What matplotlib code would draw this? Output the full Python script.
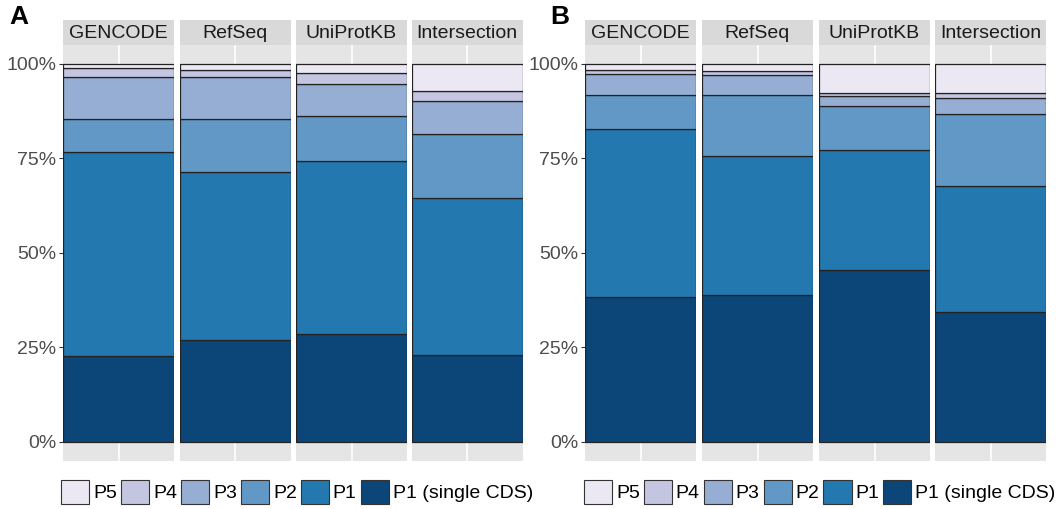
import matplotlib
matplotlib.use("Agg")
import matplotlib.pyplot as plt
from matplotlib.patches import Patch

plt.rcParams['font.family'] = ['Liberation Sans', 'DejaVu Sans']

# stacked categories, bottom to top
classes = ["P1 (single CDS)", "P1", "P2", "P3", "P4", "P5"]
colors = ["#0C4679", "#2478B0", "#6298C5", "#96AED4", "#C4C6E1", "#EBE8F3"]
sources = ["GENCODE", "RefSeq", "UniProtKB", "Intersection"]

# cumulative tops of each class, per source (fraction)
tops_a = {
    "GENCODE":      [0.226, 0.768, 0.853, 0.966, 0.989, 1.0],
    "RefSeq":       [0.269, 0.715, 0.853, 0.965, 0.984, 1.0],
    "UniProtKB":    [0.285, 0.743, 0.863, 0.948, 0.975, 1.0],
    "Intersection": [0.229, 0.644, 0.815, 0.902, 0.927, 1.0],
}
tops_b = {
    "GENCODE":      [0.383, 0.827, 0.917, 0.973, 0.985, 1.0],
    "RefSeq":       [0.388, 0.756, 0.917, 0.970, 0.981, 1.0],
    "UniProtKB":    [0.455, 0.771, 0.889, 0.914, 0.922, 1.0],
    "Intersection": [0.343, 0.678, 0.867, 0.911, 0.923, 1.0],
}

W, H = 1056, 509
fig = plt.figure(figsize=(W / 100, H / 100), dpi=100)

panel_top, panel_bot = 45, 460.5
strip_top = 20
facet_w = 111
xs_a = [63, 179.5, 296, 411.7]
xs_b = [585, 702, 819, 935]


def draw_panel(xs, tops, label, lx):
    for i, (x0, src) in enumerate(zip(xs, sources)):
        ax = fig.add_axes([x0 / W, 1 - panel_bot / H, facet_w / W, (panel_bot - panel_top) / H])
        ax.set_facecolor("#E5E5E5")
        ax.axvline(0, color="white", lw=1.2, zorder=0)
        bottom = 0
        for cls, col, top in zip(classes, colors, tops[src]):
            ax.bar(0, top - bottom, bottom=bottom, width=1, color=col,
                   edgecolor="#222222", linewidth=0.9, zorder=2)
            bottom = top
        ax.set_xlim(-0.5, 0.5)
        ax.set_ylim(-0.05, 1.05)
        ax.set_xticks([])
        for s in ax.spines.values():
            s.set_visible(False)
        if i == 0:
            ax.set_yticks([0, 0.25, 0.5, 0.75, 1.0])
            ax.set_yticklabels(["0%", "25%", "50%", "75%", "100%"], fontsize=14, color="#4D4D4D")
            ax.tick_params(axis="y", length=3, color="#333333", pad=2)
        else:
            ax.set_yticks([])
        # strip header
        sx = fig.add_axes([x0 / W, 1 - panel_top / H, facet_w / W, (panel_top - strip_top) / H])
        sx.set_facecolor("#D9D9D9")
        sx.set_xticks([])
        sx.set_yticks([])
        for s in sx.spines.values():
            s.set_visible(False)
        sx.text(0.5, 0.45, src, ha="center", va="center", fontsize=14,
                color="#1A1A1A", transform=sx.transAxes)
    fig.text(lx / W, 1 - 17 / H, label, fontsize=19, fontweight="bold", ha="left", va="center")
    handles = [Patch(facecolor=c, edgecolor="#333333", linewidth=0.8, label=l)
               for c, l in zip(colors[::-1], classes[::-1])]
    cx = (xs[0] + xs[-1] + facet_w) / 2 / W
    fig.legend(handles=handles, loc="center", bbox_to_anchor=(cx + 0.004, 1 - 492 / H), ncol=6,
               frameon=False, fontsize=14, handlelength=1.45, handleheight=1.45,
               handletextpad=0.2, columnspacing=0.2, borderaxespad=0)


draw_panel(xs_a, tops_a, "A", 9)
draw_panel(xs_b, tops_b, "B", 550)

fig.savefig("out.png", dpi=100)
